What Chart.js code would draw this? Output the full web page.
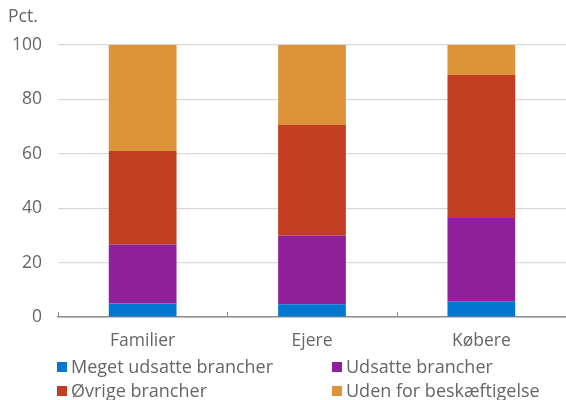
<!DOCTYPE html>
<html>
<head>
<meta charset="utf-8">
<script src="https://cdn.jsdelivr.net/npm/chart.js@4"></script>
<style>
  html, body { margin: 0; padding: 0; background: #fff; }
  #wrap { position: relative; width: 566px; height: 400px; overflow: hidden; font-family: "Open Sans", sans-serif; color: #666; }
  #c { position: absolute; left: 0; top: 0; }
  #unit { position: absolute; left: 8px; top: 5px; font-size: 17.5px; line-height: 20px; }
  .lg { position: absolute; font-size: 18px; line-height: 20px; white-space: nowrap; }
  .lg span.box { position: absolute; left: 0; top: 6px; width: 10px; height: 10px; }
  .lg span.txt { position: absolute; left: 14px; top: 0; }
</style>
</head>
<body>
<div id="wrap">
  <canvas id="c" width="566" height="400"></canvas>
  <div id="unit">Pct.</div>
  <div id="legend"></div>
</div>
<script>
const categories = ["Familier", "Ejere", "Købere"];
const seriesNames = ["Meget udsatte brancher", "Udsatte brancher", "Øvrige brancher", "Uden for beskæftigelse"];
const meget = [5.0, 4.7, 5.8];
const udsatte = [21.7, 25.3, 30.6];
const oevrige = [34.3, 40.6, 52.6];
const uden = [39.0, 29.4, 11.0];
const yTicks = [0, 20, 40, 60, 80, 100];
const colors = ["#0078d0", "#8e219a", "#c33d21", "#dd933a"];

const seriesValues = [meget, udsatte, oevrige, uden];

const tickPlugin = {
  id: 'upTicks',
  afterDatasetsDraw(chart) {
    const x = chart.scales.x, ctx = chart.ctx;
    const bottom = chart.chartArea.bottom;
    const n = categories.length;
    const w = (x.getPixelForValue(1) - x.getPixelForValue(0));
    ctx.save();
    ctx.strokeStyle = '#8c8c8c';
    ctx.lineWidth = 1;
    for (let i = 0; i <= n; i++) {
      const px = Math.round(x.getPixelForValue(0) - w / 2 + i * w) + 0.5;
      ctx.beginPath();
      ctx.moveTo(px, bottom - 5);
      ctx.lineTo(px, bottom);
      ctx.stroke();
    }
    ctx.restore();
  }
};

const chart = new Chart(document.getElementById('c'), {
  type: 'bar',
  data: {
    labels: categories,
    datasets: seriesNames.map((name, i) => ({
      label: name,
      data: seriesValues[i],
      backgroundColor: colors[i],
      borderWidth: 0,
      barPercentage: 0.4,
      categoryPercentage: 1.0
    }))
  },
  options: {
    responsive: false,
    animation: false,
    layout: { padding: { top: 45, right: 0, bottom: 43, left: 0 } },
    plugins: { legend: { display: false }, tooltip: { enabled: false } },
    scales: {
      x: {
        stacked: true,
        grid: { display: false, drawTicks: false },
        border: { display: true, color: '#8c8c8c', width: 1.5 },
        ticks: { color: '#666', font: { family: 'Open Sans', size: 17.5 }, padding: 14 },
        afterFit(s) { s.height = 40; }
      },
      y: {
        stacked: true,
        min: 0, max: 100,
        afterBuildTicks(s) { s.ticks = yTicks.map(v => ({ value: v })); },
        grid: { color: '#d9d9d9', lineWidth: 1.2, drawTicks: false },
        border: { display: false },
        ticks: { color: '#666', font: { family: 'Open Sans', size: 17.5 }, padding: 16 },
        afterFit(s) { s.width = 58; }
      }
    }
  },
  plugins: [tickPlugin]
});

const legendPos = [[57, 356], [332, 356], [57, 380], [332, 380]];
const lg = document.getElementById('legend');
seriesNames.forEach((name, i) => {
  const d = document.createElement('div');
  d.className = 'lg';
  d.style.left = legendPos[i][0] + 'px';
  d.style.top = legendPos[i][1] + 'px';
  d.innerHTML = '<span class="box" style="background:' + colors[i] + '"></span><span class="txt"></span>';
  d.querySelector('.txt').textContent = name;
  lg.appendChild(d);
});
</script>
</body>
</html>
